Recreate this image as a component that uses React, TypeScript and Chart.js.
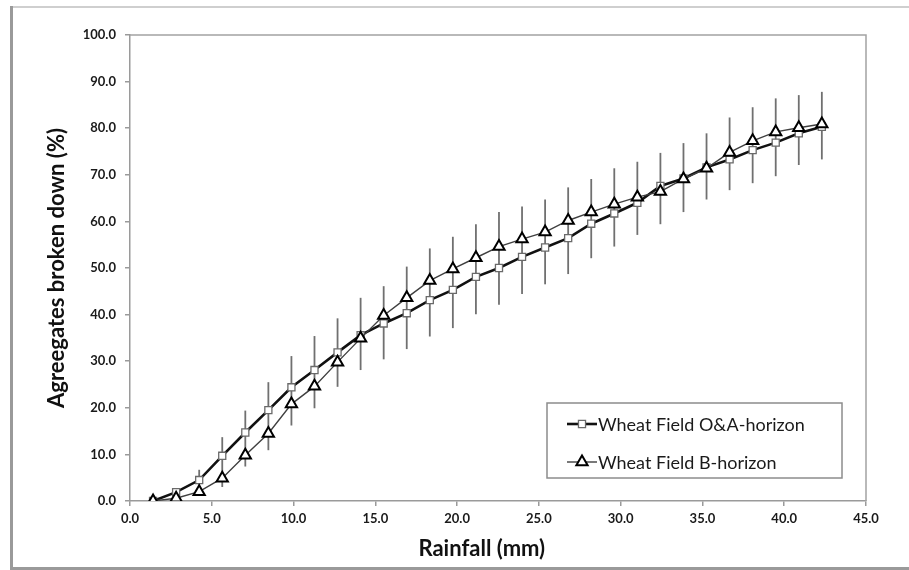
import React, { useEffect, useRef } from "react";
import { Chart, registerables } from "chart.js";

Chart.register(...registerables);

// ---- data ----
const rainfall = [
  1.41, 2.82, 4.23, 5.64, 7.05, 8.46, 9.87, 11.28, 12.69, 14.1,
  15.51, 16.92, 18.33, 19.74, 21.15, 22.56, 23.97, 25.38, 26.79, 28.2,
  29.61, 31.02, 32.43, 33.84, 35.25, 36.66, 38.07, 39.48, 40.89, 42.3,
];
const oaHorizon = [
  0.0, 1.9, 4.5, 9.7, 14.7, 19.5, 24.4, 28.1, 31.9, 35.6,
  38.1, 40.3, 43.1, 45.3, 48.1, 50.0, 52.4, 54.4, 56.4, 59.5,
  61.7, 64.0, 67.6, 69.2, 71.6, 73.3, 75.3, 76.9, 78.9, 80.3,
];
const bHorizon = [
  0.0, 0.6, 2.0, 4.9, 9.8, 14.5, 20.8, 24.6, 29.8, 34.9,
  39.8, 43.6, 47.3, 49.8, 52.2, 54.6, 56.2, 57.7, 60.2, 62.0,
  63.7, 65.2, 66.4, 69.1, 71.4, 74.8, 77.3, 79.2, 80.1, 80.9,
];
const errHigh: (number | null)[] = [
  null, null, 6.7, 13.7, 19.4, 25.5, 31.1, 35.4, 39.2, 43.6,
  46.1, 50.3, 54.2, 56.7, 59.4, 62.0, 63.2, 64.7, 67.3, 69.1,
  71.4, 72.8, 74.7, 76.8, 78.9, 82.3, 84.5, 86.4, 87.1, 87.8,
];
const errLow: (number | null)[] = [
  null, null, 1.5, 3.0, 7.4, 10.9, 16.2, 19.9, 24.5, 28.1,
  30.4, 32.6, 35.3, 37.1, 40.1, 42.1, 44.4, 46.5, 48.7, 52.1,
  54.6, 57.1, 59.4, 62.0, 64.7, 66.7, 68.2, 69.7, 72.1, 73.3,
];
const seriesLabels = ["Wheat Field O&A-horizon", "Wheat Field B-horizon"];
const xTitle = "Rainfall (mm)";
const yTitle = "Agreegates broken down (%)";
const xRange = [0, 45, 5];
const yRange = [0, 100, 10];

const FONT = "Lato, 'Open Sans', sans-serif";

const errorBarPlugin = {
  id: "errorBars",
  beforeDatasetsDraw(chart: any) {
    const { ctx, scales } = chart;
    const xs = scales.x;
    const ys = scales.y;
    ctx.save();
    ctx.strokeStyle = "#707070";
    ctx.lineWidth = 1.8;
    rainfall.forEach((r, i) => {
      const hi = errHigh[i];
      const lo = errLow[i];
      if (hi == null || lo == null) return;
      const px = xs.getPixelForValue(r);
      ctx.beginPath();
      ctx.moveTo(px, ys.getPixelForValue(hi));
      ctx.lineTo(px, ys.getPixelForValue(lo));
      ctx.stroke();
    });
    ctx.restore();
  },
};

const areaFramePlugin = {
  id: "areaFrame",
  beforeDatasetsDraw(chart: any) {
    const { ctx, chartArea } = chart;
    const { left, top, right, bottom } = chartArea;
    ctx.save();
    ctx.strokeStyle = "#a3a3a3";
    ctx.lineWidth = 1.5;
    ctx.beginPath();
    ctx.moveTo(left, top);
    ctx.lineTo(right, top);
    ctx.lineTo(right, bottom);
    ctx.stroke();
    ctx.restore();
  },
};

const xTitlePlugin = {
  id: "xTitle",
  afterDraw(chart: any) {
    const { ctx, chartArea } = chart;
    ctx.save();
    ctx.font = `bold 22px ${FONT}`;
    ctx.fillStyle = "#111111";
    ctx.textAlign = "center";
    ctx.textBaseline = "middle";
    const cx = chartArea.left + (chartArea.right - chartArea.left) * 0.478;
    ctx.fillText(xTitle, cx, chartArea.bottom + 48);
    ctx.restore();
  },
};

function drawMarker(ctx: CanvasRenderingContext2D, ds: any, x: number, y: number) {
  const r = ds.pointRadius;
  ctx.save();
  ctx.fillStyle = ds.pointBackgroundColor;
  ctx.strokeStyle = ds.pointBorderColor;
  ctx.lineWidth = ds.pointBorderWidth;
  ctx.beginPath();
  if (ds.pointStyle === "rect") {
    const s = Math.SQRT1_2 * r;
    ctx.rect(x - s, y - s, 2 * s, 2 * s);
  } else {
    let rad = 0;
    ctx.moveTo(x + Math.sin(rad) * r, y - Math.cos(rad) * r);
    rad += (2 * Math.PI) / 3;
    ctx.lineTo(x + Math.sin(rad) * r, y - Math.cos(rad) * r);
    rad += (2 * Math.PI) / 3;
    ctx.lineTo(x + Math.sin(rad) * r, y - Math.cos(rad) * r);
    ctx.closePath();
  }
  ctx.fill();
  ctx.stroke();
  ctx.restore();
}

const legendPlugin = {
  id: "boxLegend",
  afterDatasetsDraw(chart: any) {
    const { ctx, chartArea } = chart;
    const w = 295;
    const h = 75;
    const bx = chartArea.right - 24 - w;
    const by = chartArea.bottom - 23 - h;
    ctx.save();
    ctx.fillStyle = "#ffffff";
    ctx.fillRect(bx, by, w, h);
    ctx.strokeStyle = "#8c8c8c";
    ctx.lineWidth = 1.5;
    ctx.strokeRect(bx, by, w, h);
    const legendOrder = [0, 1];
    legendOrder.forEach((di, k) => {
      const ds = chart.data.datasets[di];
      const cy = by + 21 + k * 38;
      const x0 = bx + 20;
      const x1 = bx + 50;
      ctx.strokeStyle = ds.borderColor;
      ctx.lineWidth = ds.borderWidth;
      ctx.beginPath();
      ctx.moveTo(x0, cy);
      ctx.lineTo(x1, cy);
      ctx.stroke();
      drawMarker(ctx, ds, (x0 + x1) / 2, cy);
      ctx.fillStyle = "#1a1a1a";
      ctx.font = `18px ${FONT}`;
      ctx.textBaseline = "middle";
      ctx.textAlign = "left";
      ctx.fillText(ds.label, x1 + 1, cy + 1);
    });
    ctx.restore();
  },
};

export default function App() {
  const canvasRef = useRef<HTMLCanvasElement | null>(null);

  useEffect(() => {
    const canvas = canvasRef.current;
    if (!canvas) return;
    const tickFont = { family: FONT, size: 13, weight: "bold" as const };
    const chart = new Chart(canvas, {
      type: "scatter",
      data: {
        datasets: [
          {
            label: seriesLabels[0],
            data: rainfall.map((x, i) => ({ x, y: oaHorizon[i] })),
            showLine: true,
            borderColor: "#111111",
            borderWidth: 2.6,
            tension: 0,
            pointStyle: "rect",
            pointRadius: 5,
            pointBackgroundColor: "#ffffff",
            pointBorderColor: "#6a6a6a",
            pointBorderWidth: 1.3,
            order: 2,
          },
          {
            label: seriesLabels[1],
            data: rainfall.map((x, i) => ({ x, y: bHorizon[i] })),
            showLine: true,
            borderColor: "#404040",
            borderWidth: 1.4,
            tension: 0,
            pointStyle: "triangle",
            pointRadius: 6.5,
            pointBackgroundColor: "#ffffff",
            pointBorderColor: "#000000",
            pointBorderWidth: 2,
            order: 1,
          },
        ] as any,
      },
      options: {
        responsive: false,
        animation: false,
        devicePixelRatio: 1,
        layout: { padding: { left: 0, top: 35, right: 43, bottom: 0 } },
        plugins: {
          legend: { display: false },
          tooltip: { enabled: false },
        },
        scales: {
          x: {
            type: "linear",
            min: xRange[0],
            max: xRange[1],
            afterFit: (scale: any) => {
              scale.height = 69;
            },
            ticks: {
              stepSize: xRange[2],
              callback: (v: any) => Number(v).toFixed(1),
              font: tickFont,
              color: "#1a1a1a",
              padding: 5,
              maxRotation: 0,
            },
            grid: {
              drawOnChartArea: false,
              drawTicks: true,
              tickLength: 5,
              color: "#9a9a9a",
              lineWidth: 1.5,
            },
            border: { color: "#9a9a9a", width: 1.5 },
            title: { display: false },
          },
          y: {
            type: "linear",
            min: yRange[0],
            max: yRange[1],
            afterFit: (scale: any) => {
              scale.width = 130;
            },
            ticks: {
              stepSize: yRange[2],
              callback: (v: any) => Number(v).toFixed(1),
              font: tickFont,
              color: "#1a1a1a",
              padding: 9,
            },
            grid: {
              drawOnChartArea: false,
              drawTicks: true,
              tickLength: 5,
              color: "#9a9a9a",
              lineWidth: 1.5,
            },
            border: { color: "#9a9a9a", width: 1.5 },
            title: {
              display: true,
              text: yTitle,
              font: { family: FONT, size: 22, weight: "bold" },
              color: "#111111",
              padding: { top: 44, bottom: 0 },
            },
          },
        },
      } as any,
      plugins: [areaFramePlugin, errorBarPlugin, legendPlugin, xTitlePlugin],
    });
    return () => chart.destroy();
  }, []);

  return (
    <div
      style={{
        position: "absolute",
        left: 0,
        top: 0,
        width: 909,
        height: 570,
        background: "#ffffff",
        overflow: "hidden",
      }}
    >
      <canvas
        ref={canvasRef}
        width={909}
        height={570}
        style={{ position: "absolute", left: 0, top: 0, width: 909, height: 570, display: "block" }}
      />
      <div style={{ position: "absolute", left: 10, top: 6, width: 899, height: 1.5, background: "#cfcfcf", pointerEvents: "none" }} />
      <div style={{ position: "absolute", left: 10, top: 6, width: 2.5, height: 564, background: "#9a9a9a", pointerEvents: "none" }} />
      <div style={{ position: "absolute", left: 10, top: 567, width: 899, height: 3, background: "#9a9a9a", pointerEvents: "none" }} />
    </div>
  );
}
